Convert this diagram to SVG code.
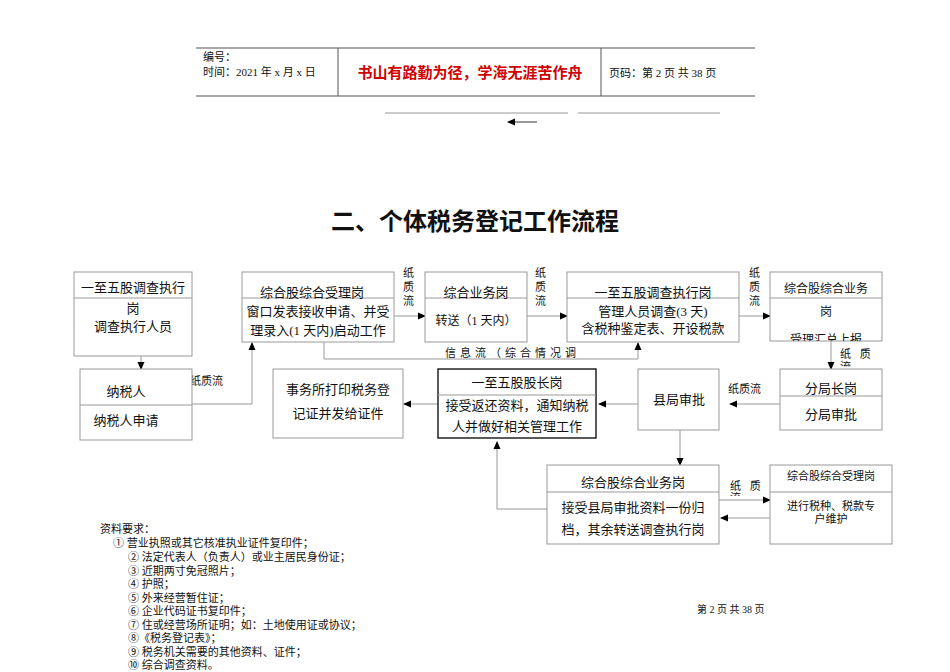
<svg xmlns="http://www.w3.org/2000/svg" width="950" height="672" viewBox="0 0 950 672">
<style>
text{font-family:"Liberation Serif","Noto Sans CJK SC",serif;fill:#111}
.b{fill:#fff;stroke:#999;stroke-width:1}
.d{stroke:#999;stroke-width:1}
.t{font-size:13px;text-anchor:middle}
.s{font-size:11px}
.c{fill:none;stroke:#999;stroke-width:1;marker-end:url(#a)}
</style>
<defs>
<marker id="a" markerWidth="8" markerHeight="8" refX="7" refY="4" orient="auto" markerUnits="userSpaceOnUse"><path d="M0,0.5L8,4L0,7.5z" fill="#000"/></marker>
<clipPath id="cf"><rect x="770" y="272" width="112" height="69"/></clipPath>
<clipPath id="ci"><rect x="430" y="345" width="200" height="14"/></clipPath>
<clipPath id="cj"><rect x="835" y="345" width="50" height="22"/></clipPath>
<clipPath id="ck"><rect x="725" y="476" width="45" height="20"/></clipPath>
</defs>
<rect width="950" height="672" fill="#fff"/>
<g id="header">
<line x1="196" y1="48" x2="755" y2="48" stroke="#555"/>
<line x1="196" y1="96" x2="755" y2="96" stroke="#555"/>
<line x1="338" y1="48" x2="338" y2="96" stroke="#555"/>
<line x1="601" y1="48" x2="601" y2="96" stroke="#555"/>
<text x="203" y="61" class="s">编号：</text>
<text x="203" y="76" class="s">时间：2021 年 x 月 x 日</text>
<text x="470" y="78" style="font-size:15px;font-weight:bold;fill:#d00000;text-anchor:middle">书山有路勤为径，学海无涯苦作舟</text>
<text x="609" y="77" class="s">页码：第 2 页  共 38 页</text>
<line x1="385" y1="113" x2="568" y2="113" stroke="#999"/>
<line x1="578" y1="113" x2="720" y2="113" stroke="#999"/>
<line x1="537" y1="122" x2="508" y2="122" stroke="#333" marker-end="url(#a)"/>
</g>
<text x="475" y="230" style="font-size:24px;font-weight:bold;text-anchor:middle;font-family:'Noto Sans CJK SC',sans-serif">二、个体税务登记工作流程</text>
<g id="connectors">
<line class="c" x1="141" y1="356" x2="141" y2="369"/>
<polyline class="c" points="192,404 252,404 252,343"/>
<text x="190" y="385" class="s">纸质流</text>
<line class="c" x1="394" y1="316" x2="425" y2="316"/>
<text x="403" y="277" class="s">纸</text><text x="403" y="291" class="s">质</text><text x="403" y="305" class="s">流</text>
<line class="c" x1="527" y1="316" x2="567" y2="316"/>
<text x="535" y="277" class="s">纸</text><text x="535" y="291" class="s">质</text><text x="535" y="305" class="s">流</text>
<line class="c" x1="739" y1="316" x2="770" y2="316"/>
<text x="749" y="277" class="s">纸</text><text x="749" y="291" class="s">质</text><text x="749" y="305" class="s">流</text>
<polyline class="c" points="324,342 324,359 638,359 638,343"/>
<g clip-path="url(#ci)"><text x="445" y="357" class="s" style="letter-spacing:4px">信息流（综合情况调</text><text x="445" y="369" class="s" style="letter-spacing:4px">查）</text></g>
<line class="c" x1="831" y1="341" x2="831" y2="369"/>
<g clip-path="url(#cj)"><text x="840" y="358" class="s" style="word-spacing:6px">纸 质</text><text x="840" y="371" class="s">流</text></g>
<line class="c" x1="780" y1="404" x2="730" y2="404"/>
<text x="728" y="393" class="s">纸质流</text>
<line class="c" x1="638" y1="404" x2="599" y2="404"/>
<line class="c" x1="438" y1="404" x2="404" y2="404"/>
<line class="c" x1="680" y1="430" x2="680" y2="465"/>
<polyline class="c" points="547,509 497,509 497,442"/>
<line class="c" x1="719" y1="500" x2="770" y2="500"/>
<g clip-path="url(#ck)"><text x="730" y="490" class="s" style="word-spacing:6px">纸 质</text><text x="730" y="502" class="s">流</text></g>
<line class="c" x1="770" y1="518" x2="721" y2="518"/>
</g>
<g id="n1"><rect class="b" x="74" y="272" width="118" height="84"/><line class="d" x1="74" y1="298" x2="192" y2="298"/>
<text x="133" y="292" class="t">一至五股调查执行</text><text x="133" y="313" class="t">岗</text><text x="133" y="331" class="t">调查执行人员</text></g>
<g id="n2"><rect class="b" x="80" y="369" width="112" height="71"/><line class="d" x1="80" y1="405" x2="192" y2="405"/>
<text x="126" y="396" class="t">纳税人</text><text x="126" y="425" class="t">纳税人申请</text></g>
<g id="n3"><rect class="b" x="242" y="272" width="152" height="70"/><line class="d" x1="242" y1="298" x2="394" y2="298"/>
<text x="312" y="297" class="t">综合股综合受理岗</text><text x="318" y="316" class="t">窗口发表接收申请、并受</text><text x="318" y="335" class="t">理录入(1 天内)启动工作</text></g>
<g id="n4"><rect class="b" x="425" y="272" width="102" height="70"/><line class="d" x1="425" y1="298" x2="527" y2="298"/>
<text x="476" y="297" class="t">综合业务岗</text><text x="476" y="325" class="t" style="font-size:12px">转送（1 天内）</text></g>
<g id="n5"><rect class="b" x="567" y="272" width="172" height="70"/><line class="d" x1="567" y1="298" x2="739" y2="298"/>
<text x="653" y="297" class="t">一至五股调查执行岗</text><text x="653" y="316" class="t">管理人员调查(3 天)</text><text x="653" y="333" class="t">含税种鉴定表、开设税款</text></g>
<g id="n6"><rect class="b" x="770" y="272" width="112" height="69"/><line class="d" x1="770" y1="298" x2="882" y2="298"/>
<text x="826" y="293" class="t" style="font-size:12px">综合股综合业务</text><text x="826" y="316" class="t" style="font-size:12px">岗</text>
<text x="826" y="344" class="t" style="font-size:12px" clip-path="url(#cf)">受理汇总上报</text></g>
<g id="n7"><rect class="b" x="273" y="369" width="130" height="69"/>
<text x="338" y="394" class="t">事务所打印税务登</text><text x="338" y="418" class="t">记证并发给证件</text></g>
<g id="n8"><rect x="438" y="369" width="158" height="69" fill="#fff" stroke="#000" stroke-width="1.3"/><line class="d" x1="438" y1="395" x2="596" y2="395"/>
<text x="517" y="387" class="t">一至五股股长岗</text><text x="517" y="410" class="t">接受返还资料，通知纳税</text><text x="517" y="431" class="t">人并做好相关管理工作</text></g>
<g id="n9"><rect class="b" x="638" y="369" width="81" height="61"/><text x="679" y="404" class="t">县局审批</text></g>
<g id="n10"><rect class="b" x="780" y="369" width="102" height="61"/><line class="d" x1="780" y1="396" x2="882" y2="396"/>
<text x="831" y="393" class="t">分局长岗</text><text x="831" y="419" class="t">分局审批</text></g>
<g id="n11"><rect class="b" x="547" y="465" width="172" height="79"/><line class="d" x1="547" y1="492" x2="719" y2="492"/>
<text x="633" y="487" class="t">综合股综合业务岗</text><text x="633" y="512" class="t">接受县局审批资料一份归</text><text x="633" y="534" class="t">档，其余转送调查执行岗</text></g>
<g id="n12"><rect class="b" x="770" y="465" width="122" height="79"/><line class="d" x1="770" y1="492" x2="892" y2="492"/>
<text x="831" y="480" class="t" style="font-size:11px">综合股综合受理岗</text><text x="831" y="510" class="t" style="font-size:11px">进行税种、税款专</text><text x="831" y="523" class="t" style="font-size:11px">户维护</text></g>
<g id="notes">
<text x="100" y="533" class="s">资料要求：</text>
<text x="113" y="547" class="s">① 营业执照或其它核准执业证件复印件；</text>
<text x="128" y="561" class="s">② 法定代表人（负责人）或业主居民身份证；</text>
<text x="128" y="575" class="s">③ 近期两寸免冠照片；</text>
<text x="128" y="588" class="s">④ 护照；</text>
<text x="128" y="602" class="s">⑤ 外来经营暂住证；</text>
<text x="128" y="615" class="s">⑥ 企业代码证书复印件；</text>
<text x="128" y="629" class="s">⑦ 住或经营场所证明；如：土地使用证或协议；</text>
<text x="128" y="642" class="s">⑧《税务登记表》；</text>
<text x="128" y="656" class="s">⑨ 税务机关需要的其他资料、证件；</text>
<text x="128" y="669" class="s">⑩ 综合调查资料。</text>
<text x="697" y="613" class="s" style="font-size:10px">第 2 页 共 38 页</text>
</g>
</svg>
